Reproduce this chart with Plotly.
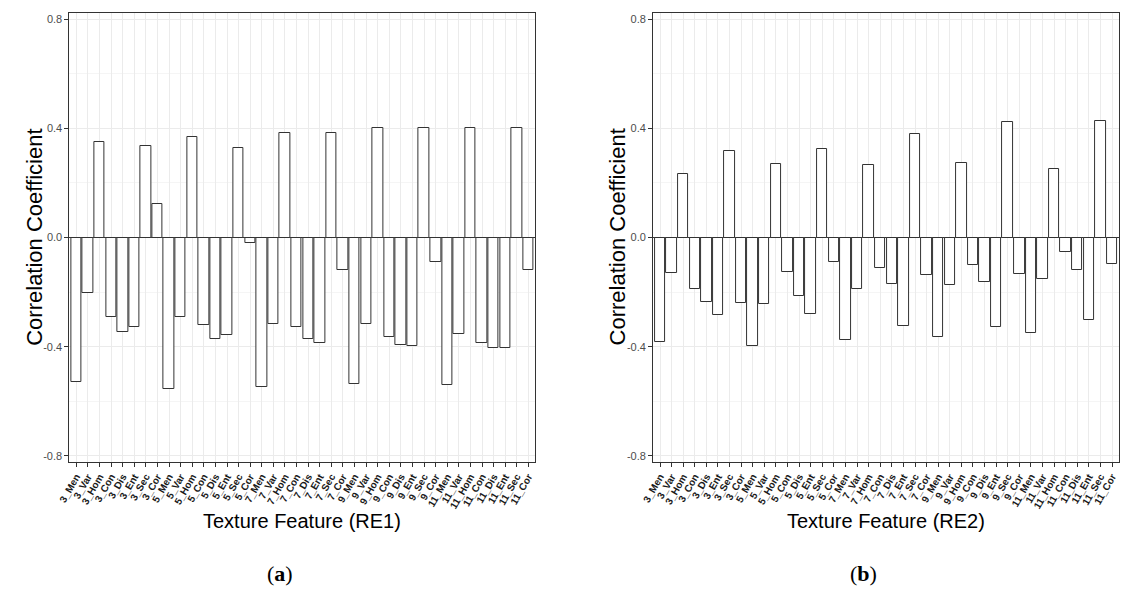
import plotly.graph_objects as go

sizes = ["3", "5", "7", "9", "11"]
features = ["Men", "Var", "Hom", "Con", "Dis", "Ent", "Sec", "Cor"]
categories = [f"{s}_{f}" for s in sizes for f in features]

re1_values = [
    -0.528, -0.204, 0.349, -0.290, -0.347, -0.329, 0.334, 0.123,
    -0.556, -0.290, 0.367, -0.322, -0.371, -0.357, 0.328, -0.019,
    -0.547, -0.316, 0.384, -0.329, -0.371, -0.388, 0.382, -0.118,
    -0.537, -0.318, 0.402, -0.366, -0.393, -0.399, 0.402, -0.089,
    -0.539, -0.353, 0.402, -0.388, -0.404, -0.404, 0.400, -0.118,
]
re2_values = [
    -0.384, -0.129, 0.234, -0.187, -0.237, -0.285, 0.316, -0.241,
    -0.399, -0.244, 0.268, -0.126, -0.213, -0.281, 0.323, -0.091,
    -0.375, -0.187, 0.264, -0.111, -0.170, -0.324, 0.378, -0.137,
    -0.364, -0.175, 0.272, -0.101, -0.163, -0.329, 0.422, -0.134,
    -0.349, -0.152, 0.250, -0.052, -0.118, -0.301, 0.428, -0.096,
]
y_ticks = [-0.8, -0.4, 0.0, 0.4, 0.8]
y_tick_labels = ["-0.8", "-0.4", "0.0", "0.4", "0.8"]

W, H = 1123, 590
fig = go.Figure()

panels = [
    (re1_values, "x", "y", (58, 529), "Texture Feature (RE1)", "a"),
    (re2_values, "x2", "y2", (648, 1119), "Texture Feature (RE2)", "b"),
]
top_px, bot_px = 13, 462
font_sans = "Liberation Sans, Arial, sans-serif"

layout_axes = {}
annotations = []
for i, (vals, xa, ya, (x0, x1), xtitle, letter) in enumerate(panels):
    fig.add_trace(go.Bar(
        x=categories, y=vals, xaxis=xa, yaxis=ya, width=0.9,
        marker=dict(color="white", line=dict(color="#333333", width=1)),
        showlegend=False,
    ))
    sfx = "" if i == 0 else "2"
    layout_axes["xaxis" + sfx] = dict(
        domain=[x0 / W, x1 / W], anchor="y" + sfx, type="category",
        categoryorder="array", categoryarray=categories,
        tickmode="array", tickvals=categories, ticktext=categories,
        range=[-0.6, 39.6], showgrid=True, gridcolor="#EBEBEB", gridwidth=1,
        showline=True, linecolor="#333333", linewidth=1, mirror=True,
        ticks="outside", ticklen=4, tickcolor="#333333", tickangle=-60,
        tickfont=dict(family=font_sans, size=10, color="#1a1a1a", weight="bold"),
        zeroline=False, fixedrange=True,
    )
    layout_axes["yaxis" + sfx] = dict(
        domain=[1 - bot_px / H, 1 - top_px / H], anchor="x" + sfx,
        range=[-0.822, 0.822], tickvals=y_ticks, ticktext=y_tick_labels,
        showgrid=True, gridcolor="#EBEBEB", gridwidth=1,
        minor=dict(tickvals=[-0.6, -0.2, 0.2, 0.6], showgrid=True,
                   gridcolor="#F5F5F5", gridwidth=1, ticks=""),
        showline=True, linecolor="#333333", linewidth=1, mirror=True,
        ticks="outside", ticklen=4, tickcolor="#333333",
        tickfont=dict(family=font_sans, size=11, color="#4D4D4D"),
        zeroline=True, zerolinecolor="#333333", zerolinewidth=1,
        fixedrange=True,
    )
    annotations.append(dict(
        text=xtitle, x=(x0 + x1) / 2 / W, y=1 - 521 / H, xref="paper", yref="paper",
        showarrow=False, xanchor="center", yanchor="middle",
        font=dict(family=font_sans, size=20, color="#000000"),
    ))
    annotations.append(dict(
        text="Correlation Coefficient", x=(x0 - 36) / W, y=1 - 237 / H,
        xref="paper", yref="paper", showarrow=False, textangle=-90,
        xanchor="center", yanchor="middle",
        font=dict(family=font_sans, size=22, color="#000000"),
    ))
    annotations.append(dict(
        text=f"(<b>{letter}</b>)", x=(x0 + x1) / 2 / W - 0.02, y=1 - 573 / H,
        xref="paper", yref="paper", showarrow=False, xanchor="center",
        yanchor="middle",
        font=dict(family="Liberation Serif, Times New Roman, serif", size=22,
                  color="#000000"),
    ))

fig.update_layout(
    width=W, height=H, margin=dict(l=0, r=0, t=0, b=0),
    paper_bgcolor="white", plot_bgcolor="white",
    bargap=0, annotations=annotations, **layout_axes,
)

fig.write_html(
    "out.html",
    config={"displayModeBar": False},
    post_script="document.body.style.margin='0';document.body.style.overflow='hidden';",
)
